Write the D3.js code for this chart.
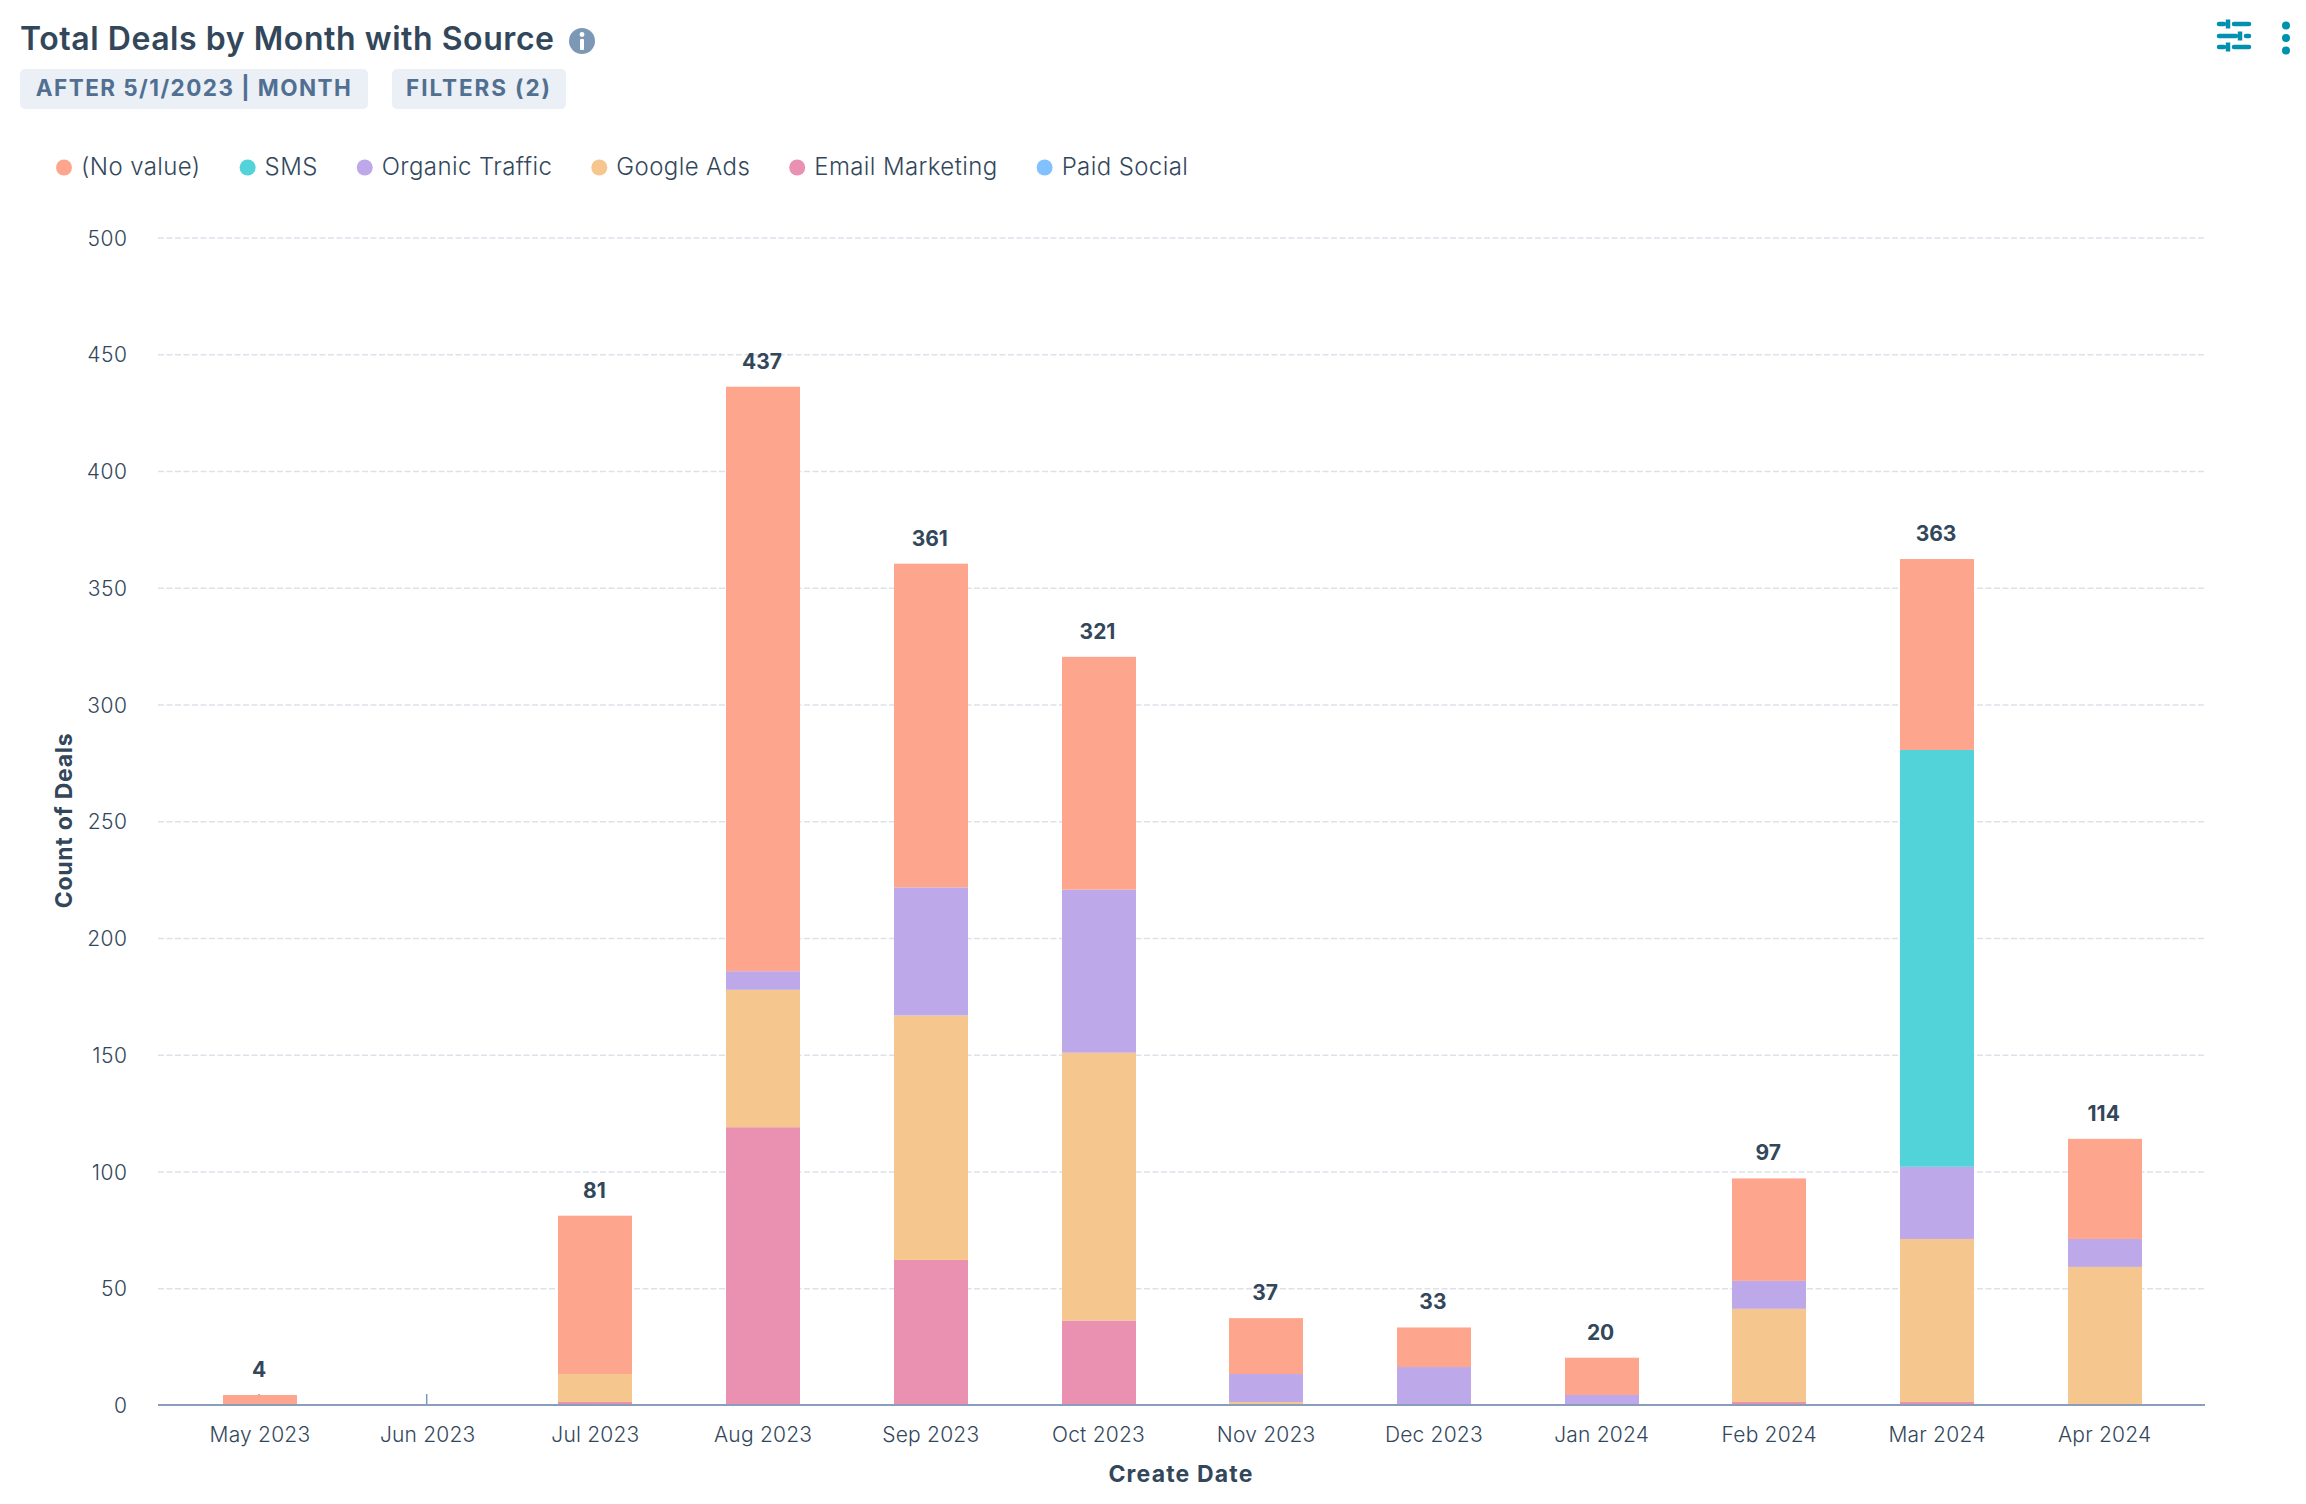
<!DOCTYPE html>
<html>
<head>
<meta charset="utf-8">
<script src="https://cdnjs.cloudflare.com/ajax/libs/d3/7.8.5/d3.min.js"></script>
<style>
html,body{margin:0;padding:0;background:#fff;}
svg{display:block;}
text{font-family:Inter,"Noto Sans",sans-serif;fill:#33475b;}
</style>
</head>
<body>
<svg id="c" width="2306" height="1504"></svg>
<script>
const months = ["May 2023","Jun 2023","Jul 2023","Aug 2023","Sep 2023","Oct 2023","Nov 2023","Dec 2023","Jan 2024","Feb 2024","Mar 2024","Apr 2024"];
const legendOrder = ["(No value)","SMS","Organic Traffic","Google Ads","Email Marketing","Paid Social"];
const yTicks = [0,50,100,150,200,250,300,350,400,450,500];
const noValue = [4,0,68,251,139,100,24,17,16,44,82,43];
const sms     = [0,0,0,0,0,0,0,0,0,0,179,0];
const organic = [0,0,0,8,55,70,12,16,4,12,31,12];
const google  = [0,0,12,59,105,115,1,0,0,40,70,59];
const email   = [0,0,1,119,62,36,0,0,0,1,1,0];
const paid    = [0,0,0,0,0,0,0,0,0,0,0,0];
const totals  = [4,0,81,437,361,321,37,33,20,97,363,114];

const seriesColors = {"(No value)":"#fea58e","SMS":"#51d3d9","Organic Traffic":"#bda9ea","Google Ads":"#f5c78e","Email Marketing":"#ea90b1","Paid Social":"#81c1fd"};
const values = {"(No value)":noValue,"SMS":sms,"Organic Traffic":organic,"Google Ads":google,"Email Marketing":email,"Paid Social":paid};
const table = months.map((m,i)=>{const r={month:m};legendOrder.forEach(k=>r[k]=values[k][i]);return r;});

const svg = d3.select("#c");

// fits a text to a measured width through letter-spacing
function fit(sel,w){
  const n=sel.node(); const len=n.getComputedTextLength(); const c=n.textContent.length;
  sel.style("letter-spacing",((w-len)/Math.max(1,c-1))+"px");
  return sel;
}

const barFrac = 74/167.7;
const x = d3.scaleBand().domain(months).range([176.15,2188.55]).paddingInner(1-barFrac).paddingOuter((1-barFrac)/2);
const y = d3.scaleLinear().domain([0,500]).range([1405.5,238]);
const yBar = d3.scaleLinear().domain([0,500]).range([1404.3,240]);
const cx = m => x(m)+x.bandwidth()/2;
const labelShift = -1;

// gridlines
svg.append("g").selectAll("line").data(yTicks.filter(t=>t>0)).join("line")
  .attr("x1",158).attr("x2",2204).attr("y1",d=>y(d)).attr("y2",d=>y(d))
  .attr("stroke","#dde2ea").attr("stroke-width",1.5).attr("stroke-dasharray","6 2.5");

// x ticks (behind bars)
svg.append("g").selectAll("line").data(months).join("line")
  .attr("x1",d=>cx(d)+labelShift).attr("x2",d=>cx(d)+labelShift).attr("y1",1394).attr("y2",1405)
  .attr("stroke","#7c98b6").attr("stroke-width",1.5);

// bars
const stack = d3.stack().keys(["Paid Social","Email Marketing","Google Ads","Organic Traffic","SMS","(No value)"]);
svg.append("g").selectAll("g").data(stack(table)).join("g")
  .attr("fill",d=>seriesColors[d.key])
  .selectAll("rect").data(d=>d.filter(s=>s[1]>s[0])).join("rect")
  .attr("x",d=>Math.round(x(d.data.month))).attr("width",x.bandwidth())
  .attr("y",d=>yBar(d[1])).attr("height",d=>yBar(d[0])-yBar(d[1]));

// x axis baseline
svg.append("line").attr("x1",158).attr("x2",2205).attr("y1",1405).attr("y2",1405)
  .attr("stroke","#8a9dbb").attr("stroke-width",2);

// y tick labels
svg.append("g").selectAll("text").data(yTicks).join("text")
  .attr("x",127.5).attr("y",d=>y(d)+7.5).attr("text-anchor","end")
  .attr("font-size",21).attr("font-weight",300).style("letter-spacing","0.5px").text(d=>d);

// x tick labels
svg.append("g").selectAll("text").data(months).join("text")
  .attr("x",d=>cx(d)).attr("y",1442).attr("text-anchor","middle")
  .attr("font-size",21).attr("font-weight",300).style("letter-spacing","0.2px").text(d=>d);

// totals
svg.append("g").selectAll("text").data(months.map((m,i)=>({m,t:totals[i]})).filter(d=>d.t>0)).join("text")
  .attr("x",d=>cx(d.m)+labelShift).attr("y",d=>yBar(d.t)-18).attr("text-anchor","middle")
  .attr("font-size",21).attr("font-weight",700).text(d=>d.t);

// axis titles
fit(svg.append("text").attr("x",1181).attr("y",1482).attr("text-anchor","middle")
  .attr("font-size",23).attr("font-weight",700).text("Create Date"),144);
fit(svg.append("text").attr("transform","translate(72,820.5) rotate(-90)").attr("text-anchor","middle")
  .attr("font-size",23).attr("font-weight",700).text("Count of Deals"),175);

// title
fit(svg.append("text").attr("x",20).attr("y",50).attr("font-size",32).attr("font-weight",600)
  .text("Total Deals by Month with Source"),534);

// info icon
svg.append("circle").attr("cx",582).attr("cy",41).attr("r",13).attr("fill","#7c98b6");
svg.append("circle").attr("cx",582).attr("cy",34.5).attr("r",2.4).attr("fill","#fff");
svg.append("rect").attr("x",580).attr("y",39).attr("width",4).attr("height",11).attr("rx",1).attr("fill","#fff");

// tags
const tags=[["AFTER 5/1/2023 | MONTH",20,348,315],["FILTERS (2)",392,174,144]];
tags.forEach(t=>{
  svg.append("rect").attr("x",t[1]).attr("y",69).attr("width",t[2]).attr("height",40).attr("rx",5).attr("fill","#eaf0f6");
  fit(svg.append("text").attr("x",t[1]+t[2]/2).attr("y",96).attr("text-anchor","middle")
    .attr("font-size",22.5).attr("font-weight",700).text(t[0]).style("fill","#516f90"),t[3]);
});

// legend
let lx=64;
legendOrder.forEach(k=>{
  svg.append("circle").attr("cx",lx).attr("cy",167.5).attr("r",8).attr("fill",seriesColors[k]);
  const t=svg.append("text").attr("x",lx+17).attr("y",174.5).attr("font-size",24).attr("font-weight",300)
    .style("letter-spacing","0.4px").text(k);
  const w=t.node().getComputedTextLength();
  lx+=17+w+47;
});

// top right controls
const ctl=svg.append("g").attr("stroke","#0091ae").attr("stroke-width",4.5).attr("stroke-linecap","round").attr("fill","none");
[[24,2228],[36,2240],[47,2228]].forEach(r=>{
  ctl.append("line").attr("x1",2219).attr("x2",r[1]-4).attr("y1",r[0]).attr("y2",r[0]);
  ctl.append("line").attr("x1",r[1]+6).attr("x2",2249).attr("y1",r[0]).attr("y2",r[0]);
  ctl.append("line").attr("x1",r[1]).attr("x2",r[1]).attr("y1",r[0]-4.5).attr("y2",r[0]+4.5).attr("stroke-linecap","butt");
});
[25.5,38,50.5].forEach(cy=>svg.append("circle").attr("cx",2286).attr("cy",cy).attr("r",4).attr("fill","#0091ae"));
</script>
</body>
</html>
